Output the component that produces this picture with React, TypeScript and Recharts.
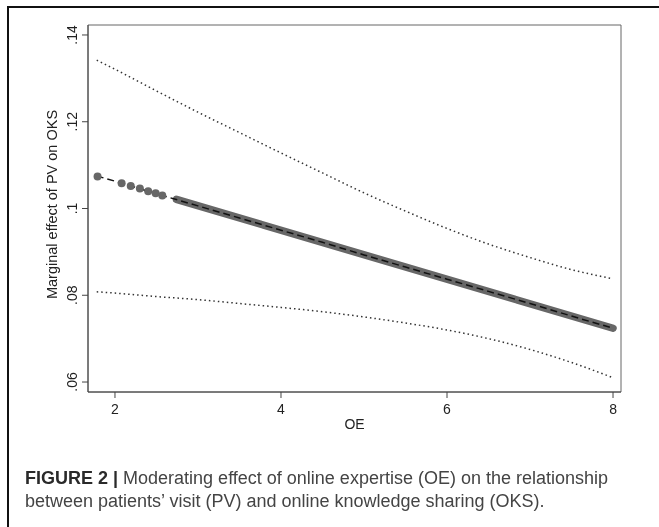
import React from 'react';
import { ComposedChart, Line, XAxis, YAxis, ReferenceArea } from 'recharts';

// OE grid for the confidence band and fitted line
const ciOE = [1.78, 2, 2.5, 3, 3.5, 4, 4.5, 5, 5.5, 6, 6.5, 7, 7.5, 8];
const fitME = [0.1075, 0.1063, 0.1034, 0.1006, 0.0978, 0.095, 0.0922, 0.0893, 0.0865, 0.0837, 0.0809, 0.0781, 0.0752, 0.0724];
const upperME = [0.1342, 0.1321, 0.1271, 0.1222, 0.1175, 0.1128, 0.1082, 0.1036, 0.0994, 0.0954, 0.0918, 0.0887, 0.0859, 0.0838];
const lowerME = [0.0808, 0.0805, 0.0797, 0.079, 0.0781, 0.0772, 0.0762, 0.075, 0.0736, 0.072, 0.07, 0.0675, 0.0645, 0.061];

// isolated observed points at low OE
const markerOE = [1.79, 2.08, 2.19, 2.3, 2.4, 2.49, 2.57];
const markerME = [0.1074, 0.1058, 0.1052, 0.1046, 0.104, 0.1035, 0.103];

// dense run of observed points (draws as a solid band)
const bandOE = [2.74, 8];
const bandME = [0.1021, 0.0724];

const xTicks = [2, 4, 6, 8];
const yTicks = [0.06, 0.08, 0.1, 0.12, 0.14];
const yTickLabels = ['.06', '.08', '.1', '.12', '.14'];

const ciData = ciOE.map((oe, i) => ({ oe, fit: fitME[i], upper: upperME[i], lower: lowerME[i] }));
const markerData = markerOE.map((oe, i) => ({ oe, me: markerME[i] }));
const bandData = bandOE.map((oe, i) => ({ oe, me: bandME[i] }));

const X_DOMAIN: [number, number] = [1.675, 8.096];
const Y_DOMAIN: [number, number] = [0.0577, 0.1423];
const FONT = '"Liberation Sans", Arial, sans-serif';

function YTick({ x, y, payload }: any) {
  const i = yTicks.indexOf(payload.value);
  return (
    <text
      x={x}
      y={y}
      transform={`rotate(-90, ${x}, ${y})`}
      textAnchor="middle"
      fontSize={14}
      fontFamily={FONT}
      fill="#222"
    >
      {i >= 0 ? yTickLabels[i] : payload.value}
    </text>
  );
}

function YTitle({ viewBox }: any) {
  const cx = 43;
  const cy = viewBox.y + viewBox.height / 2 - 4;
  return (
    <text
      x={cx}
      y={cy}
      transform={`rotate(-90, ${cx}, ${cy})`}
      textAnchor="middle"
      dominantBaseline="central"
      fontSize={14.5}
      fontFamily={FONT}
      fill="#222"
    >
      Marginal effect of PV on OKS
    </text>
  );
}

function XTitle({ viewBox }: any) {
  const cx = viewBox.x + viewBox.width / 2;
  return (
    <text x={cx} y={viewBox.y + 37} textAnchor="middle" fontSize={14} fontFamily={FONT} fill="#222">
      OE
    </text>
  );
}

export default function App() {
  return (
    <div
      style={{
        position: 'fixed',
        top: 6,
        left: 7,
        width: 652,
        height: 521,
        borderTop: '2px solid #111',
        borderLeft: '2px solid #111',
        fontFamily: FONT,
      }}
    >
      <ComposedChart width={650} height={430} margin={{ top: 17, right: 38, bottom: 0, left: 0 }}>
        <XAxis
          type="number"
          dataKey="oe"
          domain={X_DOMAIN}
          ticks={xTicks}
          allowDataOverflow
          height={46}
          tickSize={6}
          tickMargin={6}
          stroke="#444"
          tick={{ fontSize: 14, fill: '#222', fontFamily: FONT }}
          label={{ content: XTitle }}
        />
        <YAxis
          type="number"
          domain={Y_DOMAIN}
          ticks={yTicks}
          allowDataOverflow
          width={79}
          tickSize={6}
          tickMargin={5}
          stroke="#444"
          tick={YTick}
          label={{ content: YTitle }}
        />
        <ReferenceArea x1={X_DOMAIN[0]} x2={X_DOMAIN[1]} y1={Y_DOMAIN[0]} y2={Y_DOMAIN[1]} fill="none" stroke="#666" strokeWidth={1} fillOpacity={0} />
        <Line
          data={ciData}
          dataKey="upper"
          type="monotone"
          stroke="#333"
          strokeWidth={1.5}
          strokeDasharray="1.5 3"
          dot={false}
          isAnimationActive={false}
        />
        <Line
          data={ciData}
          dataKey="lower"
          type="monotone"
          stroke="#333"
          strokeWidth={1.5}
          strokeDasharray="1.5 3"
          dot={false}
          isAnimationActive={false}
        />
        <Line
          data={bandData}
          dataKey="me"
          stroke="#676767"
          strokeWidth={7.5}
          strokeLinecap="round"
          dot={false}
          isAnimationActive={false}
        />
        <Line
          data={markerData}
          dataKey="me"
          stroke="none"
          dot={{ r: 4, fill: '#676767', stroke: 'none' }}
          isAnimationActive={false}
        />
        <Line
          data={ciData}
          dataKey="fit"
          stroke="#111"
          strokeWidth={1.5}
          strokeDasharray="7 4"
          dot={false}
          isAnimationActive={false}
        />
      </ComposedChart>
      <div
        style={{
          position: 'absolute',
          top: 459,
          left: 16,
          fontSize: 18,
          lineHeight: '23px',
          color: '#444',
          whiteSpace: 'nowrap',
        }}
      >
        <span style={{ fontWeight: 'bold', color: '#2a2a2a' }}>FIGURE 2 |</span> Moderating effect of online expertise (OE) on the relationship
        <br />
        between patients’ visit (PV) and online knowledge sharing (OKS).
      </div>
    </div>
  );
}
